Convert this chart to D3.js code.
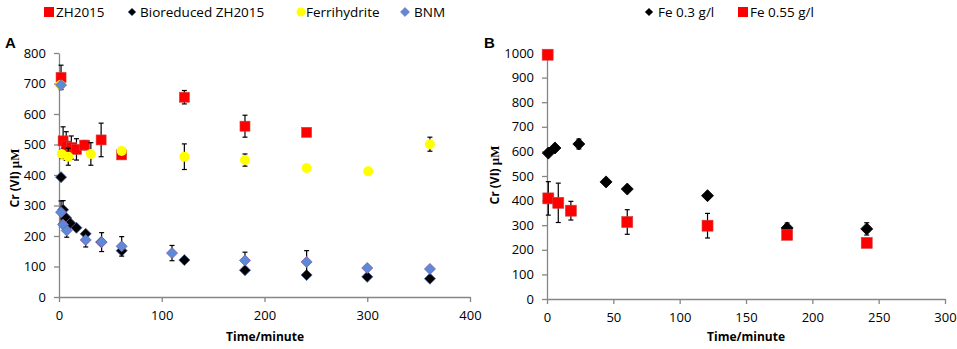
<html>
<head>
<meta charset="utf-8">
<style>
  body { margin: 0; background: #fff; }
  text { font-family: "Open Sans", sans-serif; fill: #000; }
</style>
</head>
<body>
<svg id="chart" width="957" height="349"></svg>
<script src="https://d3js.org/d3.v7.min.js"></script>
<script>
// ---- panel A data (time in minutes, Cr(VI) in µM, error = +/-)
const zhTime = [2, 4, 7, 12, 17, 25, 41, 61, 122, 181, 241]
const zhVal  = [720, 512, 495, 490, 484, 498, 515, 466, 655, 560, 540]
const zhErr  = [40, 46, 47, 38, 35, 15, 55, 0, 22, 36, 0]

const bioTime = [2, 4, 7, 11, 17, 26, 41, 61, 122, 181, 241, 300, 361]
const bioVal  = [393, 286, 259, 242, 227, 207, 180, 152, 121, 88, 72, 66, 60]
const bioErr  = [0, 30, 0, 0, 0, 0, 0, 0, 0, 0, 0, 0, 0]

const ferTime = [1.5, 2.6, 9, 31, 61, 122, 181, 241, 301, 361]
const ferVal  = [695, 469, 460, 469, 479, 460, 449, 423, 412, 501]
const ferErr  = [0, 15, 28, 37, 0, 42, 20, 8, 8, 23]

const bnmTime = [2, 2, 4, 7.5, 26, 41.5, 61, 110, 181, 241, 300, 361]
const bnmVal  = [695, 278, 237, 218, 187, 180, 166, 144, 120, 115, 95, 92]
const bnmErr  = [0, 37, 0, 22, 23, 31, 32, 25, 27, 37, 5, 0]

// ---- panel B data
const fe03Time = [1, 6, 24, 44.5, 60.5, 121, 181, 241]
const fe03Val  = [593, 614, 630, 476, 447, 420, 289, 285]
const fe03Err  = [0, 0, 20, 0, 0, 8, 20, 25]

const fe55Time = [0.5, 1, 8.5, 18, 60.5, 121, 181, 241]
const fe55Val  = [993, 409, 391, 359, 313, 298, 261, 228]
const fe55Err  = [0, 68, 80, 38, 50, 50, 0, 0]

const ticksA = [0, 100, 200, 300, 400, 500, 600, 700, 800]
const xTicksA = [0, 100, 200, 300, 400]
const ticksB = [0, 100, 200, 300, 400, 500, 600, 700, 800, 900, 1000]
const xTicksB = [0, 50, 100, 150, 200, 250, 300]

const svg = d3.select("#chart")
const axisGrey = "#868686"

function pts(t, v, e) {
    return t.map((d, i) => ({t: d, v: v[i], e: e[i]}))
}

function drawAxes(x, y, yTicks, xTicks) {
    let yAxis = d3.axisLeft(y).tickValues(yTicks).tickFormat(d3.format("d"))
                  .tickSize(5).tickSizeOuter(0).tickPadding(8)
    let gy = svg.append("g").attr("transform", `translate(${x.range()[0]},0)`).call(yAxis)
    let xAxis = d3.axisBottom(x).tickValues(xTicks).tickFormat(d3.format("d"))
                  .tickSize(5).tickSizeOuter(0).tickPadding(9)
    let gx = svg.append("g").attr("transform", `translate(0,${y.range()[0]})`).call(xAxis)
    for (let g of [gx, gy]) {
        g.select(".domain").attr("stroke", axisGrey).attr("stroke-width", 1.3)
        g.selectAll(".tick line").attr("stroke", axisGrey).attr("stroke-width", 1.3)
        g.selectAll(".tick text").style("font-size", "13px").attr("fill", "#000")
    }
}

function errorBars(g, data, x, y) {
    let d = data.filter(p => p.e > 0)
    let eb = g.append("g").attr("stroke", "#000").attr("stroke-width", 1.2)
    eb.selectAll(".v").data(d).join("line")
        .attr("x1", p => x(p.t)).attr("x2", p => x(p.t))
        .attr("y1", p => y(p.v - p.e)).attr("y2", p => y(p.v + p.e))
    eb.selectAll(".top").data(d).join("line")
        .attr("x1", p => x(p.t) - 2.5).attr("x2", p => x(p.t) + 2.5)
        .attr("y1", p => y(p.v + p.e)).attr("y2", p => y(p.v + p.e))
    eb.selectAll(".bot").data(d).join("line")
        .attr("x1", p => x(p.t) - 2.5).attr("x2", p => x(p.t) + 2.5)
        .attr("y1", p => y(p.v - p.e)).attr("y2", p => y(p.v - p.e))
}

function squares(g, data, x, y, s) {
    g.selectAll(null).data(data).join("rect")
        .attr("x", p => x(p.t) - s / 2).attr("y", p => y(p.v) - s / 2)
        .attr("width", s).attr("height", s)
        .attr("fill", "#ff0000").attr("stroke", "#d04040").attr("stroke-width", 0.6)
}

function diamonds(g, data, x, y, s, fill, stroke) {
    let sym = d3.symbol().type(d3.symbolSquare).size(s * s / 2)
    g.selectAll(null).data(data).join("path")
        .attr("d", sym)
        .attr("transform", p => `translate(${x(p.t)},${y(p.v)}) rotate(45)`)
        .attr("fill", fill).attr("stroke", stroke).attr("stroke-width", 0.8)
}

function circles(g, data, x, y, r) {
    g.selectAll(null).data(data).join("circle")
        .attr("cx", p => x(p.t)).attr("cy", p => y(p.v)).attr("r", r)
        .attr("fill", "#ffff00")
}

function yTitle(xPos, yPos) {
    let t = svg.append("text")
        .attr("transform", `translate(${xPos},${yPos}) rotate(-90)`)
        .attr("text-anchor", "middle")
        .style("font-size", "12px").style("font-weight", "bold")
    t.append("tspan").text("Cr (VI) ")
    t.append("tspan").text("μM").style("font-family", "'Liberation Serif', serif").style("font-size", "13px")
}

// ---------- panel A
let xA = d3.scaleLinear().domain([0, 400]).range([59, 470])
let yA = d3.scaleLinear().domain([0, 800]).range([297, 53])
drawAxes(xA, yA, ticksA, xTicksA)

let gA = svg.append("g")
let zh = pts(zhTime, zhVal, zhErr)
let bio = pts(bioTime, bioVal, bioErr)
let fer = pts(ferTime, ferVal, ferErr)
let bnm = pts(bnmTime, bnmVal, bnmErr)

errorBars(gA, zh, xA, yA)
squares(gA, zh, xA, yA, 10)
errorBars(gA, bio, xA, yA)
diamonds(gA, bio, xA, yA, 11, "#000", "#3b5f9c")
errorBars(gA, fer, xA, yA)
circles(gA, fer, xA, yA, 5)
errorBars(gA, bnm, xA, yA)
diamonds(gA, bnm, xA, yA, 11, "#5b8bd8", "#8a5aa8")

svg.append("text").attr("x", 5).attr("y", 48).text("A")
    .style("font-family", "'Liberation Sans', Arial, sans-serif").style("font-size", "15px").style("font-weight", "bold")
yTitle(19, 178)
svg.append("text").attr("x", 265).attr("y", 341).attr("text-anchor", "middle")
    .style("font-size", "12px").style("font-weight", "bold").text("Time/minute")

// legend A
let legA = svg.append("g").style("font-size", "13.5px")
legA.append("rect").attr("x", 44).attr("y", 7).attr("width", 10).attr("height", 10).attr("fill", "#ff0000")
legA.append("text").attr("x", 56).attr("y", 17).text("ZH2015")
legA.append("path").attr("d", d3.symbol().type(d3.symbolSquare).size(30)).attr("transform", "translate(132,12) rotate(45)")
    .attr("fill", "#000").attr("stroke", "#3b5f9c").attr("stroke-width", 0.6)
legA.append("text").attr("x", 140).attr("y", 17).text("Bioreduced ZH2015")
legA.append("circle").attr("cx", 301).attr("cy", 12).attr("r", 4.5).attr("fill", "#ffff00")
legA.append("text").attr("x", 306).attr("y", 17).text("Ferrihydrite")
legA.append("path").attr("d", d3.symbol().type(d3.symbolSquare).size(40)).attr("transform", "translate(405,12) rotate(45)")
    .attr("fill", "#5b8bd8").attr("stroke", "#8a5aa8").attr("stroke-width", 0.6)
legA.append("text").attr("x", 414).attr("y", 17).text("BNM")

// ---------- panel B
let xB = d3.scaleLinear().domain([0, 300]).range([547, 945])
let yB = d3.scaleLinear().domain([0, 1000]).range([299, 53])
drawAxes(xB, yB, ticksB, xTicksB)

let gB = svg.append("g")
let fe03 = pts(fe03Time, fe03Val, fe03Err)
let fe55 = pts(fe55Time, fe55Val, fe55Err)
errorBars(gB, fe03, xB, yB)
diamonds(gB, fe03, xB, yB, 12, "#000", "#000")
errorBars(gB, fe55, xB, yB)
squares(gB, fe55, xB, yB, 11)

svg.append("text").attr("x", 484).attr("y", 48).text("B")
    .style("font-family", "'Liberation Sans', Arial, sans-serif").style("font-size", "15px").style("font-weight", "bold")
yTitle(499, 175)
svg.append("text").attr("x", 746).attr("y", 341).attr("text-anchor", "middle")
    .style("font-size", "12px").style("font-weight", "bold").text("Time/minute")

let legB = svg.append("g").style("font-size", "13.5px")
legB.append("path").attr("d", d3.symbol().type(d3.symbolSquare).size(34)).attr("transform", "translate(649,12) rotate(45)")
    .attr("fill", "#000")
legB.append("text").attr("x", 658).attr("y", 17).text("Fe 0.3 g/l")
legB.append("rect").attr("x", 738).attr("y", 7).attr("width", 10).attr("height", 10).attr("fill", "#ff0000")
legB.append("text").attr("x", 750).attr("y", 17).text("Fe 0.55 g/l")
</script>
</body>
</html>
